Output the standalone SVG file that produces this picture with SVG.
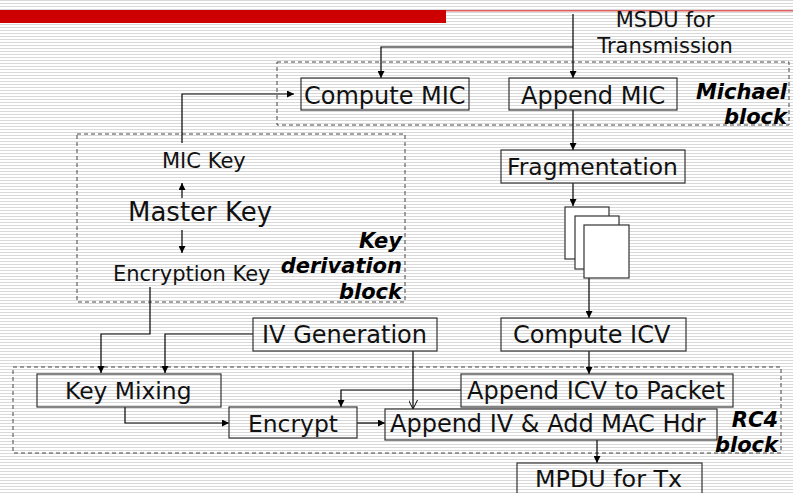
<svg xmlns="http://www.w3.org/2000/svg" width="793" height="493" viewBox="0 0 793 493">
  <defs>
    <pattern id="lines" width="8" height="3" patternUnits="userSpaceOnUse">
      <rect width="8" height="3" fill="#ffffff"/>
      <rect y="0" width="8" height="1" fill="#d9d9d9"/>
    </pattern>
    <marker id="arr" viewBox="0 0 10 10" refX="10" refY="5" markerWidth="7" markerHeight="7" markerUnits="userSpaceOnUse" orient="auto">
      <path d="M0,0 L10,5 L0,10 Z" fill="#000"/>
    </marker>
    <marker id="open" viewBox="0 0 10 10" refX="10" refY="5" markerWidth="9" markerHeight="9" markerUnits="userSpaceOnUse" orient="auto">
      <path d="M0,0 L10,5 L0,10" fill="none" stroke="#000" stroke-width="1.1"/>
    </marker>
    <style>
      .box { fill: none; stroke: #333; stroke-width: 1.2; }
      .page { fill: #fff; stroke: #333; stroke-width: 1.2; }
      .group { fill: none; stroke: #444; stroke-width: 1; stroke-dasharray: 4 3; }
      .t { font-family: "DejaVu Sans", Verdana, sans-serif; fill: #111; }
      .lbl { font-family: "DejaVu Sans", Verdana, sans-serif; font-weight: bold; font-style: italic; fill: #000; font-size: 21px; text-anchor: end; }
      .c { fill: none; stroke: #000; stroke-width: 1.2; }
      .a { marker-end: url(#arr); }
    </style>
  </defs>

  <!-- striped backdrop and title rule -->
  <rect width="793" height="493" fill="url(#lines)"/>
  <rect x="0" y="10" width="446" height="13" fill="#cc0000"/>
  <rect x="446" y="10" width="347" height="1.5" fill="#e06060"/>

  <!-- dashed grouping regions -->
  <g id="michael-block">
    <rect class="group" x="277" y="62" width="512" height="63"/>
    <text class="lbl" x="787" y="99">Michael</text>
    <text class="lbl" x="787" y="124">block</text>
  </g>
  <g id="key-derivation-block">
    <rect class="group" x="77" y="134" width="328" height="168"/>
    <text class="lbl" x="402" y="248">Key</text>
    <text class="lbl" x="402" y="273">derivation</text>
    <text class="lbl" x="402" y="299">block</text>
  </g>
  <g id="rc4-block">
    <rect class="group" x="13" y="367" width="768" height="86"/>
    <text class="lbl" x="778" y="427">RC4</text>
    <text class="lbl" x="778" y="452">block</text>
  </g>

  <!-- connectors -->
  <g id="connectors">
    <path class="c a" d="M573,14 V78"/>
    <path class="c a" d="M573,47 H381 V78"/>
    <path class="c a" d="M182,143 V94 H294"/>
    <path class="c a" d="M182,198 V183"/>
    <path class="c a" d="M182,230 V253"/>
    <path class="c a" d="M573,110 V150"/>
    <path class="c a" d="M573,183 V206"/>
    <path class="c a" d="M589,278 V318"/>
    <path class="c a" d="M589,351 V374"/>
    <path class="c a" d="M150,287 V334 H101 V373"/>
    <path class="c a" d="M253,334 H165 V373"/>
    <path class="c" d="M413,351 V409" marker-end="url(#open)"/>
    <path class="c a" d="M461,390 H341 V407"/>
    <path class="c a" d="M125,407 V423 H229"/>
    <path class="c a" d="M357,423 H385"/>
    <path class="c a" d="M597,440 V463"/>
  </g>

  <!-- source -->
  <g id="msdu">
    <text class="t" x="665" y="27" font-size="21" text-anchor="middle">MSDU for</text>
    <text class="t" x="665" y="53" font-size="21" text-anchor="middle">Transmission</text>
  </g>

  <!-- Michael MIC stage -->
  <g id="compute-mic">
    <rect class="box" x="301" y="78" width="168" height="32"/>
    <text class="t" x="304" y="104" font-size="24">Compute MIC</text>
  </g>
  <g id="append-mic">
    <rect class="box" x="509" y="78" width="168" height="32"/>
    <text class="t" x="521" y="104" font-size="24">Append MIC</text>
  </g>

  <!-- key hierarchy -->
  <g id="mic-key">
    <text class="t" x="162" y="168" font-size="21">MIC Key</text>
  </g>
  <g id="master-key">
    <text class="t" x="128" y="221" font-size="26">Master Key</text>
  </g>
  <g id="encryption-key">
    <text class="t" x="113" y="281" font-size="21">Encryption Key</text>
  </g>

  <!-- fragmentation -->
  <g id="fragmentation">
    <rect class="box" x="501" y="150" width="184" height="33"/>
    <text class="t" x="507" y="175" font-size="23.4">Fragmentation</text>
  </g>
  <g id="fragments">
    <rect class="page" x="565" y="207" width="44" height="52"/>
    <rect class="page" x="575" y="216" width="44" height="53"/>
    <rect class="page" x="584" y="225" width="45" height="53"/>
  </g>
  <g id="compute-icv">
    <rect class="box" x="501" y="318" width="185" height="33"/>
    <text class="t" x="513" y="343" font-size="24">Compute ICV</text>
  </g>

  <!-- IV and RC4 stage -->
  <g id="iv-generation">
    <rect class="box" x="253" y="318" width="184" height="33"/>
    <text class="t" x="262" y="343" font-size="24">IV Generation</text>
  </g>
  <g id="key-mixing">
    <rect class="box" x="37" y="374" width="184" height="33"/>
    <text class="t" x="65" y="399" font-size="23.4">Key Mixing</text>
  </g>
  <g id="append-icv">
    <rect class="box" x="461" y="374" width="272" height="33"/>
    <text class="t" x="467" y="399" font-size="24">Append ICV to Packet</text>
  </g>
  <g id="encrypt">
    <rect class="box" x="229" y="407" width="128" height="31"/>
    <text class="t" x="248" y="432" font-size="23.4">Encrypt</text>
  </g>
  <g id="append-iv">
    <rect class="box" x="385" y="409" width="332" height="31"/>
    <text class="t" x="390" y="432" font-size="24">Append IV &amp; Add MAC Hdr</text>
  </g>
  <g id="mpdu">
    <rect class="box" x="517" y="463" width="185" height="40"/>
    <text class="t" x="535" y="487" font-size="23.8">MPDU for Tx</text>
  </g>
</svg>
